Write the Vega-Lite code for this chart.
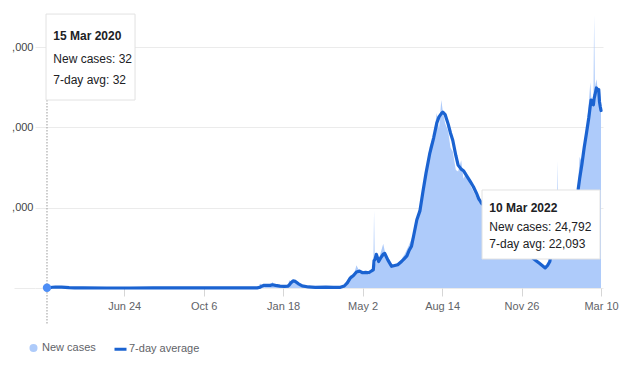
{
  "$schema": "https://vega.github.io/schema/vega-lite/v6.json",
  "width": 568,
  "height": 288,
  "autosize": {"type": "none"},
  "padding": {"left": 35, "top": 0, "right": 36, "bottom": 91},
  "background": "white",
  "config": {
    "view": {"stroke": null},
    "font": "Liberation Sans, Arial, sans-serif"
  },
  "data": {
    "values": [
      {"date": "2020-03-15", "cases": 32, "avg": 32},
      {"date": "2020-03-18", "cases": 35, "avg": 35},
      {"date": "2020-03-22", "cases": 188, "avg": 95},
      {"date": "2020-03-26", "cases": 111, "avg": 118},
      {"date": "2020-03-30", "cases": 136, "avg": 125},
      {"date": "2020-04-03", "cases": 103, "avg": 110},
      {"date": "2020-04-08", "cases": 111, "avg": 70},
      {"date": "2020-04-13", "cases": 28, "avg": 40},
      {"date": "2020-04-20", "cases": 27, "avg": 25},
      {"date": "2020-05-01", "cases": 6, "avg": 8},
      {"date": "2020-06-01", "cases": 1, "avg": 3},
      {"date": "2020-07-01", "cases": 0, "avg": 3},
      {"date": "2020-08-01", "cases": 3, "avg": 4},
      {"date": "2020-09-01", "cases": 4, "avg": 5},
      {"date": "2020-10-01", "cases": 6, "avg": 6},
      {"date": "2020-11-01", "cases": 8, "avg": 7},
      {"date": "2020-12-01", "cases": 15, "avg": 12},
      {"date": "2020-12-15", "cases": 11, "avg": 20},
      {"date": "2020-12-19", "cases": 548, "avg": 100},
      {"date": "2020-12-21", "cases": 382, "avg": 230},
      {"date": "2020-12-24", "cases": 94, "avg": 330},
      {"date": "2020-12-28", "cases": 144, "avg": 320},
      {"date": "2021-01-01", "cases": 279, "avg": 330},
      {"date": "2021-01-04", "cases": 745, "avg": 400},
      {"date": "2021-01-08", "cases": 200, "avg": 330},
      {"date": "2021-01-14", "cases": 250, "avg": 240},
      {"date": "2021-01-20", "cases": 150, "avg": 200},
      {"date": "2021-01-24", "cases": 200, "avg": 220},
      {"date": "2021-01-26", "cases": 959, "avg": 380},
      {"date": "2021-01-28", "cases": 802, "avg": 620},
      {"date": "2021-01-31", "cases": 850, "avg": 880},
      {"date": "2021-02-03", "cases": 700, "avg": 820},
      {"date": "2021-02-07", "cases": 300, "avg": 520},
      {"date": "2021-02-12", "cases": 150, "avg": 260},
      {"date": "2021-02-20", "cases": 100, "avg": 130},
      {"date": "2021-03-01", "cases": 60, "avg": 90},
      {"date": "2021-03-15", "cases": 180, "avg": 120},
      {"date": "2021-03-25", "cases": 80, "avg": 90},
      {"date": "2021-04-03", "cases": 90, "avg": 90},
      {"date": "2021-04-08", "cases": 405, "avg": 250},
      {"date": "2021-04-12", "cases": 985, "avg": 650},
      {"date": "2021-04-16", "cases": 1582, "avg": 1250},
      {"date": "2021-04-20", "cases": 1458, "avg": 1550},
      {"date": "2021-04-24", "cases": 2839, "avg": 2000},
      {"date": "2021-04-28", "cases": 2012, "avg": 2100},
      {"date": "2021-05-02", "cases": 1940, "avg": 1900},
      {"date": "2021-05-06", "cases": 2112, "avg": 1950},
      {"date": "2021-05-10", "cases": 1630, "avg": 1900},
      {"date": "2021-05-14", "cases": 2256, "avg": 2150},
      {"date": "2021-05-16", "cases": 2300, "avg": 2250},
      {"date": "2021-05-17", "cases": 9635, "avg": 3400},
      {"date": "2021-05-18", "cases": 2800, "avg": 3500},
      {"date": "2021-05-20", "cases": 3400, "avg": 4200},
      {"date": "2021-05-23", "cases": 3500, "avg": 3300},
      {"date": "2021-05-26", "cases": 4500, "avg": 3800},
      {"date": "2021-05-29", "cases": 5500, "avg": 4200},
      {"date": "2021-05-31", "cases": 4600, "avg": 4300},
      {"date": "2021-06-04", "cases": 3500, "avg": 3500},
      {"date": "2021-06-09", "cases": 2600, "avg": 2700},
      {"date": "2021-06-13", "cases": 2900, "avg": 2800},
      {"date": "2021-06-17", "cases": 3100, "avg": 2900},
      {"date": "2021-06-22", "cases": 3600, "avg": 3300},
      {"date": "2021-06-26", "cases": 4200, "avg": 3700},
      {"date": "2021-06-29", "cases": 4800, "avg": 4000},
      {"date": "2021-07-02", "cases": 5400, "avg": 4700},
      {"date": "2021-07-05", "cases": 6100, "avg": 5200},
      {"date": "2021-07-08", "cases": 7000, "avg": 6600},
      {"date": "2021-07-12", "cases": 8600, "avg": 8500},
      {"date": "2021-07-16", "cases": 9700, "avg": 9600},
      {"date": "2021-07-20", "cases": 11300, "avg": 12000},
      {"date": "2021-07-24", "cases": 14300, "avg": 14300},
      {"date": "2021-07-29", "cases": 17700, "avg": 16800},
      {"date": "2021-08-03", "cases": 18900, "avg": 18700},
      {"date": "2021-08-07", "cases": 21800, "avg": 20500},
      {"date": "2021-08-10", "cases": 19800, "avg": 21300},
      {"date": "2021-08-13", "cases": 23400, "avg": 21700},
      {"date": "2021-08-15", "cases": 22000, "avg": 21900},
      {"date": "2021-08-18", "cases": 20500, "avg": 21600},
      {"date": "2021-08-22", "cases": 19500, "avg": 20400},
      {"date": "2021-08-25", "cases": 17500, "avg": 19300},
      {"date": "2021-08-28", "cases": 17000, "avg": 18400},
      {"date": "2021-09-01", "cases": 14700, "avg": 16500},
      {"date": "2021-09-04", "cases": 14500, "avg": 15300},
      {"date": "2021-09-08", "cases": 15900, "avg": 14800},
      {"date": "2021-09-11", "cases": 13600, "avg": 14600},
      {"date": "2021-09-15", "cases": 14400, "avg": 14000},
      {"date": "2021-09-19", "cases": 13000, "avg": 13400},
      {"date": "2021-09-24", "cases": 12000, "avg": 12600},
      {"date": "2021-09-28", "cases": 11300, "avg": 11800},
      {"date": "2021-10-01", "cases": 10700, "avg": 11100},
      {"date": "2021-10-05", "cases": 10300, "avg": 10500},
      {"date": "2021-10-10", "cases": 10000, "avg": 10300},
      {"date": "2021-10-15", "cases": 10500, "avg": 10000},
      {"date": "2021-10-20", "cases": 9600, "avg": 9500},
      {"date": "2021-10-25", "cases": 8900, "avg": 9000},
      {"date": "2021-11-01", "cases": 8500, "avg": 8300},
      {"date": "2021-11-08", "cases": 7600, "avg": 7700},
      {"date": "2021-11-15", "cases": 7000, "avg": 7000},
      {"date": "2021-11-22", "cases": 6100, "avg": 6300},
      {"date": "2021-11-29", "cases": 5400, "avg": 5500},
      {"date": "2021-12-05", "cases": 4500, "avg": 4500},
      {"date": "2021-12-11", "cases": 3600, "avg": 3700},
      {"date": "2021-12-15", "cases": 3500, "avg": 3400},
      {"date": "2021-12-19", "cases": 3000, "avg": 3100},
      {"date": "2021-12-23", "cases": 2700, "avg": 2800},
      {"date": "2021-12-27", "cases": 2400, "avg": 2500},
      {"date": "2021-12-30", "cases": 2900, "avg": 2800},
      {"date": "2022-01-02", "cases": 3300, "avg": 3300},
      {"date": "2022-01-05", "cases": 5800, "avg": 5000},
      {"date": "2022-01-08", "cases": 8200, "avg": 7000},
      {"date": "2022-01-11", "cases": 7800, "avg": 8000},
      {"date": "2022-01-12", "cases": 15800, "avg": 8100},
      {"date": "2022-01-13", "cases": 8100, "avg": 8900},
      {"date": "2022-01-16", "cases": 7900, "avg": 9000},
      {"date": "2022-01-20", "cases": 7500, "avg": 8800},
      {"date": "2022-01-25", "cases": 8000, "avg": 8000},
      {"date": "2022-01-30", "cases": 8700, "avg": 8600},
      {"date": "2022-02-03", "cases": 10000, "avg": 9800},
      {"date": "2022-02-08", "cases": 13000, "avg": 12200},
      {"date": "2022-02-10", "cases": 16300, "avg": 13600},
      {"date": "2022-02-13", "cases": 15700, "avg": 15400},
      {"date": "2022-02-16", "cases": 18000, "avg": 17500},
      {"date": "2022-02-19", "cases": 19500, "avg": 19300},
      {"date": "2022-02-22", "cases": 23000, "avg": 21200},
      {"date": "2022-02-24", "cases": 25600, "avg": 22700},
      {"date": "2022-02-25", "cases": 24000, "avg": 23400},
      {"date": "2022-02-27", "cases": 22500, "avg": 23000},
      {"date": "2022-02-28", "cases": 23000, "avg": 22800},
      {"date": "2022-03-01", "cases": 34000, "avg": 23600},
      {"date": "2022-03-02", "cases": 25000, "avg": 24000},
      {"date": "2022-03-04", "cases": 26000, "avg": 24900},
      {"date": "2022-03-06", "cases": 24500, "avg": 24650},
      {"date": "2022-03-07", "cases": 24000, "avg": 24700},
      {"date": "2022-03-08", "cases": 23500, "avg": 23200},
      {"date": "2022-03-09", "cases": 23000, "avg": 22600},
      {"date": "2022-03-10", "cases": 24792, "avg": 22093}
    ]
  },
  "layer": [
    {
      "mark": {"type": "area", "interpolate": "linear", "opacity": 1},
      "encoding": {
        "x": {
          "field": "date", "type": "temporal",
          "scale": {"type": "utc", "domain": [{"year": 2020, "month": 2, "date": 28, "hours": 7, "minutes": 10, "utc": true}, {"year": 2022, "month": 3, "date": 12, "hours": 14, "minutes": 24, "utc": true}]},
          "axis": {
            "title": null, "grid": false, "domain": false,
            "values": [
              {"year": 2020, "month": 6, "date": 24, "utc": true},
              {"year": 2020, "month": 10, "date": 6, "utc": true},
              {"year": 2021, "month": 1, "date": 18, "utc": true},
              {"year": 2021, "month": 5, "date": 2, "utc": true},
              {"year": 2021, "month": 8, "date": 14, "utc": true},
              {"year": 2021, "month": 11, "date": 26, "utc": true},
              {"year": 2022, "month": 3, "date": 10, "utc": true}
            ],
            "format": "%b %-d",
            "tickColor": "#d6d6d6", "tickSize": 8, "labelPadding": 4,
            "labelFontSize": 11, "labelColor": "#5f6368",
            "labelOverlap": false, "labelFlush": false, "labelBound": false
          }
        },
        "y": {
          "field": "cases", "type": "quantitative",
          "scale": {"domain": [0, 35852], "nice": false, "zero": true},
          "axis": {
            "title": null, "values": [0, 10000, 20000, 30000],
            "grid": true, "gridColor": "#ebebeb", "gridWidth": 1, "domain": false,
            "tickSize": 21, "labelPadding": -19,
            "tickColor": {"condition": {"test": "datum.value === 0", "value": "#ebebeb"}, "value": "transparent"},
            "labelExpr": "datum.value === 0 ? '' : ',000'",
            "labelFontSize": 11, "labelColor": "#444444"
          }
        },
        "color": {
          "datum": "New cases",
          "scale": {"domain": ["New cases", "7-day average"], "range": ["#aecbfa", "#1b63d1"]},
          "legend": {
            "title": null, "orient": "none", "direction": "horizontal",
            "legendX": -9, "legendY": 340,
            "labelFontSize": 11, "labelColor": "#5f6368",
            "labelOffset": 1, "columnPadding": 12, "symbolSize": 144,
            "symbolType": {"expr": "datum.value === 'New cases' ? 'M0.42,0A0.42,0.42,0,1,1,-0.42,0A0.42,0.42,0,1,1,0.42,0Z' : 'stroke'"},
            "symbolStrokeColor": {"expr": "datum.value === 'New cases' ? 'transparent' : '#1b63d1'"},
            "symbolStrokeWidth": 3,
            "symbolOpacity": 1
          }
        }
      }
    },
    {
      "mark": {"type": "line", "strokeWidth": 3.2, "strokeJoin": "round", "strokeCap": "round"},
      "encoding": {
        "x": {"field": "date", "type": "temporal"},
        "y": {"field": "avg", "type": "quantitative"},
        "color": {"datum": "7-day average", "legend": null}
      }
    },
    {
      "data": {"values": [{"date": "2020-03-15"}]},
      "mark": {"type": "rule", "color": "#9a9a9a", "strokeWidth": 1, "strokeDash": [1.5, 1.5]},
      "encoding": {
        "x": {"field": "date", "type": "temporal"},
        "y": {"datum": 23400, "type": "quantitative"},
        "y2": {"datum": -4600}
      }
    },
    {
      "data": {"values": [{"date": "2020-03-15", "avg": 32}]},
      "mark": {"type": "point", "filled": true, "size": 70, "color": "#4d8ef6", "opacity": 1},
      "encoding": {
        "x": {"field": "date", "type": "temporal"},
        "y": {"field": "avg", "type": "quantitative"}
      }
    },
    {
      "data": {"values": [{"title": "15 Mar 2020", "lines": ["New cases: 32", "7-day avg: 32"]}]},
      "layer": [
        {
          "mark": {"type": "rect", "color": "#000000", "opacity": 0.12, "xOffset": 1, "yOffset": 2},
          "encoding": {
            "x": {"datum": {"year": 2020, "month": 3, "date": 13, "hours": 17, "utc": true}, "type": "temporal"},
            "x2": {"datum": {"year": 2020, "month": 7, "date": 8, "hours": 5, "utc": true}},
            "y": {"datum": 34100, "type": "quantitative"},
            "y2": {"datum": 23400}
          }
        },
        {
          "mark": {"type": "rect", "fill": "#ffffff", "stroke": "#e2e2e2", "strokeWidth": 1},
          "encoding": {
            "x": {"datum": {"year": 2020, "month": 3, "date": 13, "hours": 17, "utc": true}, "type": "temporal"},
            "x2": {"datum": {"year": 2020, "month": 7, "date": 8, "hours": 5, "utc": true}},
            "y": {"datum": 34100, "type": "quantitative"},
            "y2": {"datum": 23400}
          }
        },
        {
          "mark": {"type": "text", "align": "left", "baseline": "alphabetic", "fontSize": 12, "fontWeight": "bold", "color": "#202124"},
          "encoding": {
            "x": {"datum": {"year": 2020, "month": 3, "date": 23, "hours": 6, "utc": true}, "type": "temporal"},
            "y": {"datum": 30870, "type": "quantitative"},
            "text": {"field": "title"}
          }
        },
        {
          "mark": {"type": "text", "align": "left", "baseline": "alphabetic", "fontSize": 12, "lineHeight": 21, "color": "#202124"},
          "encoding": {
            "x": {"datum": {"year": 2020, "month": 3, "date": 23, "hours": 6, "utc": true}, "type": "temporal"},
            "y": {"datum": 28010, "type": "quantitative"},
            "text": {"field": "lines"}
          }
        }
      ]
    },
    {
      "data": {"values": [{"title": "10 Mar 2022", "lines": ["New cases: 24,792", "7-day avg: 22,093"]}]},
      "layer": [
        {
          "mark": {"type": "rect", "color": "#000000", "opacity": 0.12, "xOffset": 1, "yOffset": 2},
          "encoding": {
            "x": {"datum": {"year": 2021, "month": 10, "date": 5, "hours": 7, "utc": true}, "type": "temporal"},
            "x2": {"datum": {"year": 2022, "month": 3, "date": 8, "hours": 17, "utc": true}},
            "y": {"datum": 12200, "type": "quantitative"},
            "y2": {"datum": 3610}
          }
        },
        {
          "mark": {"type": "rect", "fill": "#ffffff", "stroke": "#e2e2e2", "strokeWidth": 1},
          "encoding": {
            "x": {"datum": {"year": 2021, "month": 10, "date": 5, "hours": 7, "utc": true}, "type": "temporal"},
            "x2": {"datum": {"year": 2022, "month": 3, "date": 8, "hours": 17, "utc": true}},
            "y": {"datum": 12200, "type": "quantitative"},
            "y2": {"datum": 3610}
          }
        },
        {
          "mark": {"type": "text", "align": "left", "baseline": "alphabetic", "fontSize": 12, "fontWeight": "bold", "color": "#202124"},
          "encoding": {
            "x": {"datum": {"year": 2021, "month": 10, "date": 14, "hours": 19, "utc": true}, "type": "temporal"},
            "y": {"datum": 9400, "type": "quantitative"},
            "text": {"field": "title"}
          }
        },
        {
          "mark": {"type": "text", "align": "left", "baseline": "alphabetic", "fontSize": 12, "lineHeight": 17.5, "color": "#202124"},
          "encoding": {
            "x": {"datum": {"year": 2021, "month": 10, "date": 14, "hours": 19, "utc": true}, "type": "temporal"},
            "y": {"datum": 7100, "type": "quantitative"},
            "text": {"field": "lines"}
          }
        }
      ]
    }
  ]
}
